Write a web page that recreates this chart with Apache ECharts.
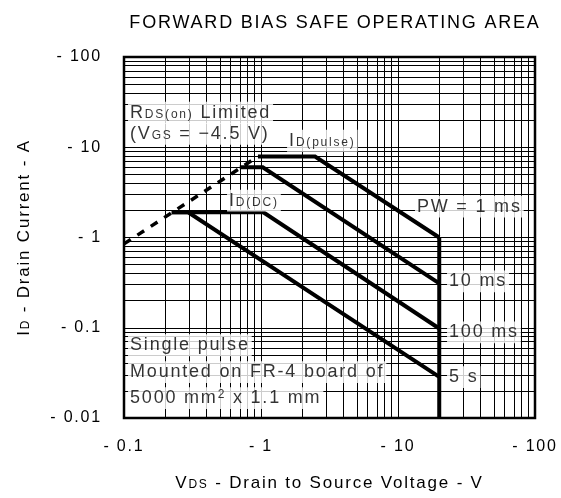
<!DOCTYPE html>
<html>
<head>
<meta charset="utf-8">
<script src="https://cdn.jsdelivr.net/npm/echarts@6/dist/echarts.min.js"></script>
<style>
  html, body { margin: 0; padding: 0; background: #fff; }
  #chart { width: 561px; height: 498px; }
</style>
</head>
<body>
<div id="chart"></div>
<script>
// axis ticks and labels
const xTicks = [0.1, 1, 10, 100]
const xTickLabels = ['- 0.1', '- 1', '- 10', '- 100']
const yTicks = [0.01, 0.1, 1, 10, 100]
const yTickLabels = ['- 0.01', '- 0.1', '- 1', '- 10', '- 100']
const minorSteps = [2, 3, 4, 5, 6, 7, 8, 9]

// SOA boundaries, [VDS (V), ID (A)]
const rdsLimit = [[0.1, 0.85], [0.95, 7.9]]
const pw1ms = [[0.95, 7.9], [2.48, 7.9], [20, 1.0]]
const pw10ms = [[0.7, 6.0], [1.03, 6.0], [20, 0.31]]
const pw100ms = [[0.223, 1.9], [1.04, 1.9], [20, 0.098]]
const pw5s = [[0.223, 1.9], [0.294, 1.9], [20, 0.0286]]
const vdsMax = [[20, 1.0], [20, 0.01]]

// annotations: anchor (left edge, middle) in data coordinates
const noteX = [0.107, 0.107, 1.55, 0.565, 13.3, 22.8, 22.8, 22.8, 0.107, 0.107, 0.107]
const noteY = [24.1, 14.1, 11.8, 2.56, 2.2, 0.327, 0.089, 0.0284, 0.064, 0.0322, 0.0166]
const noteText = [
  '{b|R}{s|DS(on)}{b| Limited}',
  '{b|(V}{s|GS}{b| = −4.5 V)}',
  '{b|I}{s|D(pulse)}',
  '{b|I}{s|D(DC)}',
  'PW = 1 ms',
  '10 ms',
  '100 ms',
  '5 s',
  'Single pulse',
  'Mounted on FR-4 board of',
  '5000 mm{sup|2} x 1.1 mm',
]

const FONT = '"Liberation Sans", Arial, sans-serif'
const SPACING = '1.8px'

// the datasheet text is letter-spaced; apply it both when measuring and drawing
const measureCtx = document.createElement('canvas').getContext('2d')
echarts.setPlatformAPI({
  measureText(text, font) {
    measureCtx.font = font || '12px sans-serif'
    measureCtx.letterSpacing = SPACING
    return measureCtx.measureText(text)
  },
})
const origFillText = CanvasRenderingContext2D.prototype.fillText
CanvasRenderingContext2D.prototype.fillText = function (...args) {
  this.letterSpacing = SPACING
  return origFillText.apply(this, args)
}

const tickLabel = (ticks, labels) => (v) => {
  const i = ticks.findIndex((t) => Math.abs(Math.log10(t) - Math.log10(v)) < 1e-6)
  return i >= 0 ? labels[i] : ''
}

const gridValues = (ticks) => {
  const out = []
  ticks.forEach((t, i) => {
    out.push(t)
    if (i < ticks.length - 1) minorSteps.forEach((m) => out.push(t * m))
  })
  return out
}

const richText = (size, subSize) => ({
  b: { fontSize: size, fontFamily: FONT, color: '#000', verticalAlign: 'bottom' },
  s: { fontSize: subSize, fontFamily: FONT, color: '#000', verticalAlign: 'bottom', padding: [0, 0, 1, 0] },
  sup: { fontSize: subSize, fontFamily: FONT, color: '#000', verticalAlign: 'top' },
})

const curve = (data, extra) => ({
  type: 'line',
  data,
  showSymbol: false,
  symbol: 'none',
  silent: true,
  z: 5,
  lineStyle: Object.assign({ color: '#000', width: 4, join: 'miter', cap: 'butt' }, extra),
})

const chart = echarts.init(document.getElementById('chart'))

const option = {
  animation: false,
  title: {
    text: 'FORWARD BIAS SAFE OPERATING AREA',
    left: 330,
    textAlign: 'center',
    top: 8,
    textStyle: { fontSize: 18, fontWeight: 'normal', fontFamily: FONT, color: '#000' },
  },
  grid: {
    left: 124,
    top: 57,
    width: 411,
    height: 361,
    show: true,
    borderColor: '#000',
    borderWidth: 2.5,
  },
  xAxis: {
    type: 'log',
    logBase: 10,
    min: 0.1,
    max: 100,
    axisLine: { show: false },
    axisTick: { show: false },
    splitLine: { show: false },
    axisLabel: {
      formatter: tickLabel(xTicks, xTickLabels),
      margin: 20,
      color: '#000',
      fontSize: 16,
      fontFamily: FONT,
    },
    name: '{b|V}{s|DS}{b| - Drain to Source Voltage - V}',
    nameLocation: 'middle',
    nameGap: 56,
    nameTextStyle: { rich: richText(17, 12) },
  },
  yAxis: {
    type: 'log',
    logBase: 10,
    min: 0.01,
    max: 100,
    axisLine: { show: false },
    axisTick: { show: false },
    splitLine: { show: false },
    axisLabel: {
      formatter: tickLabel(yTicks, yTickLabels),
      margin: 22,
      color: '#000',
      fontSize: 16,
      fontFamily: FONT,
    },
    name: '{b|I}{s|D}{b| - Drain Current - A}',
    nameLocation: 'middle',
    nameRotate: 90,
    nameGap: 90,
    nameTextStyle: { rich: richText(17, 12) },
  },
  series: [
    {
      // log grid
      type: 'line',
      data: [],
      silent: true,
      z: 1,
      markLine: {
        silent: true,
        symbol: 'none',
        animation: false,
        label: { show: false },
        lineStyle: { color: '#000', width: 1, type: 'solid' },
        data: [
          ...gridValues(xTicks).map((v) => ({ xAxis: v })),
          ...gridValues(yTicks).map((v) => ({ yAxis: v })),
        ],
      },
    },
    curve(rdsLimit, { width: 3.5, type: [8, 8] }),
    curve(pw1ms),
    curve(pw10ms),
    curve(pw100ms),
    curve(pw5s),
    curve(vdsMax),
    {
      type: 'scatter',
      silent: true,
      symbolSize: 0,
      z: 10,
      data: noteX.map((x, i) => [x, noteY[i], noteText[i]]),
      label: {
        show: true,
        position: 'right',
        distance: 0,
        formatter: (p) => p.data[2],
        color: '#000',
        fontSize: 18,
        fontFamily: FONT,
        backgroundColor: '#fff',
        padding: [1, 2, 1, 2],
        rich: richText(18, 12),
      },
    },
  ],
}

chart.setOption(option)
</script>
</body>
</html>
